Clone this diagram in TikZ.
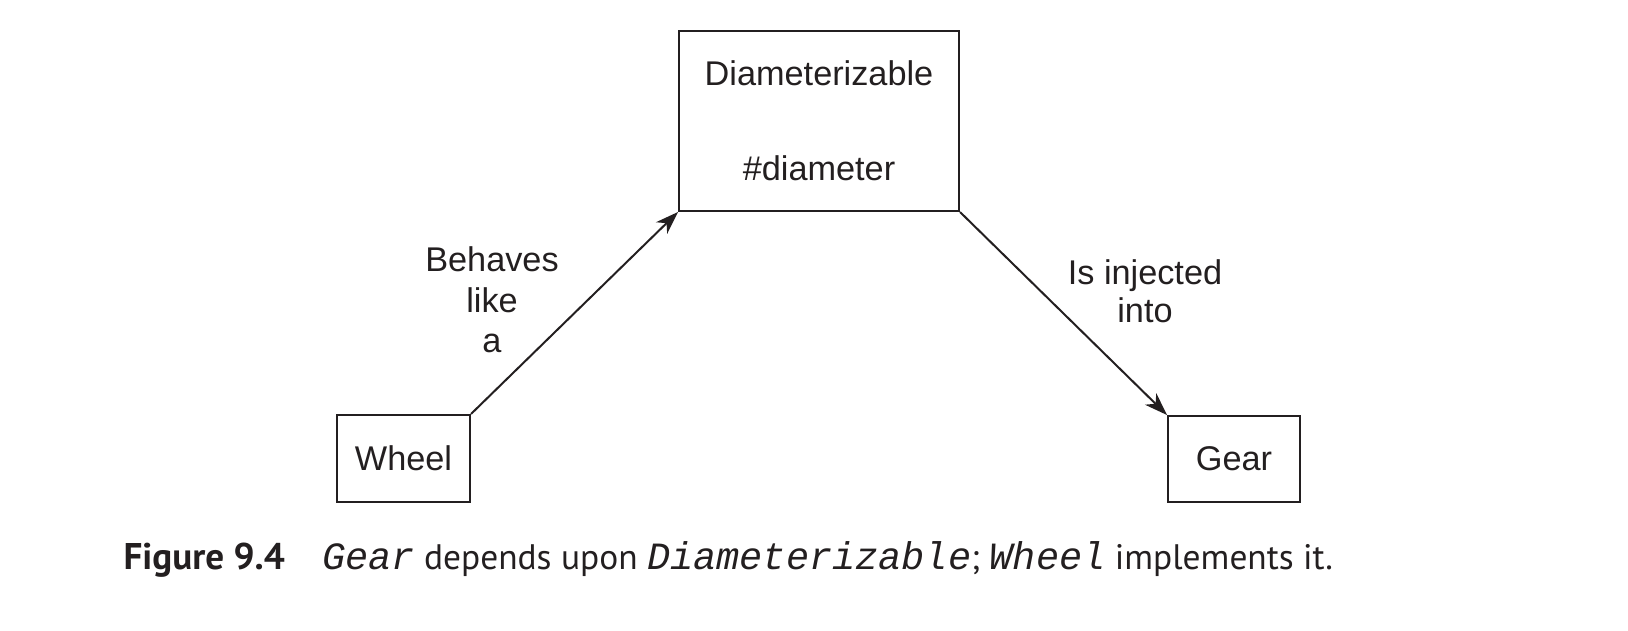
\documentclass[tikz,border=0pt]{standalone}
\usepackage{fontspec}
\setmainfont{Liberation Sans}
\newfontfamily\capfont{PT Sans}
\newfontfamily\codefont{Liberation Mono}
\usetikzlibrary{arrows.meta}
\definecolor{Ink}{HTML}{231F20}
\newcommand{\code}[1]{{\codefont\itshape\fontsize{13.5}{16}\selectfont #1}}

\begin{document}
\begin{tikzpicture}[x=0.35pt,y=-0.35pt,color=Ink,
          font=\fontsize{12}{14.2}\selectfont,
          box/.style={draw=Ink,line width=0.7pt,inner sep=0pt},
          dep/.style={-{Stealth[length=8pt,width=5.6pt,inset=2.4pt]},
            draw=Ink,line width=0.7pt}]
        \useasboundingbox (0,0) rectangle (1628,630);

        \node[box,minimum width=98pt,minimum height=63pt,align=center]
            (diam) at (819,121) {Diameterizable\\[19pt]\#diameter};
        \node[box,minimum width=46.6pt,minimum height=30.5pt]
            (wheel) at (403.5,458.5) {Wheel};
        \node[box,minimum width=46.2pt,minimum height=30.1pt]
            (gear) at (1234,459) {Gear};

        \draw[dep] (wheel.north east) -- (diam.south west);
        \draw[dep] (diam.south east) -- (gear.north west);

        % Labels sit beside the connectors, not on them.
        \node[align=center] (behaves) at (492,300) {Behaves\\like\\a};
        \node[align=center,font=\fontsize{12}{13.3}\selectfont]
            (injected) at (1145,291.5) {Is injected\\into};

        \node[anchor=base west,inner sep=0pt,
                font=\capfont\fontsize{12.4}{15}\selectfont]
            (caption) at (123,569)
          {{\fontsize{13}{15}\selectfont\bfseries Figure 9.4}\hspace{13pt}%
           \code{Gear} depends upon
           \code{Diameterizable}; \code{Wheel} implements it.};
      \end{tikzpicture}
\end{document}
